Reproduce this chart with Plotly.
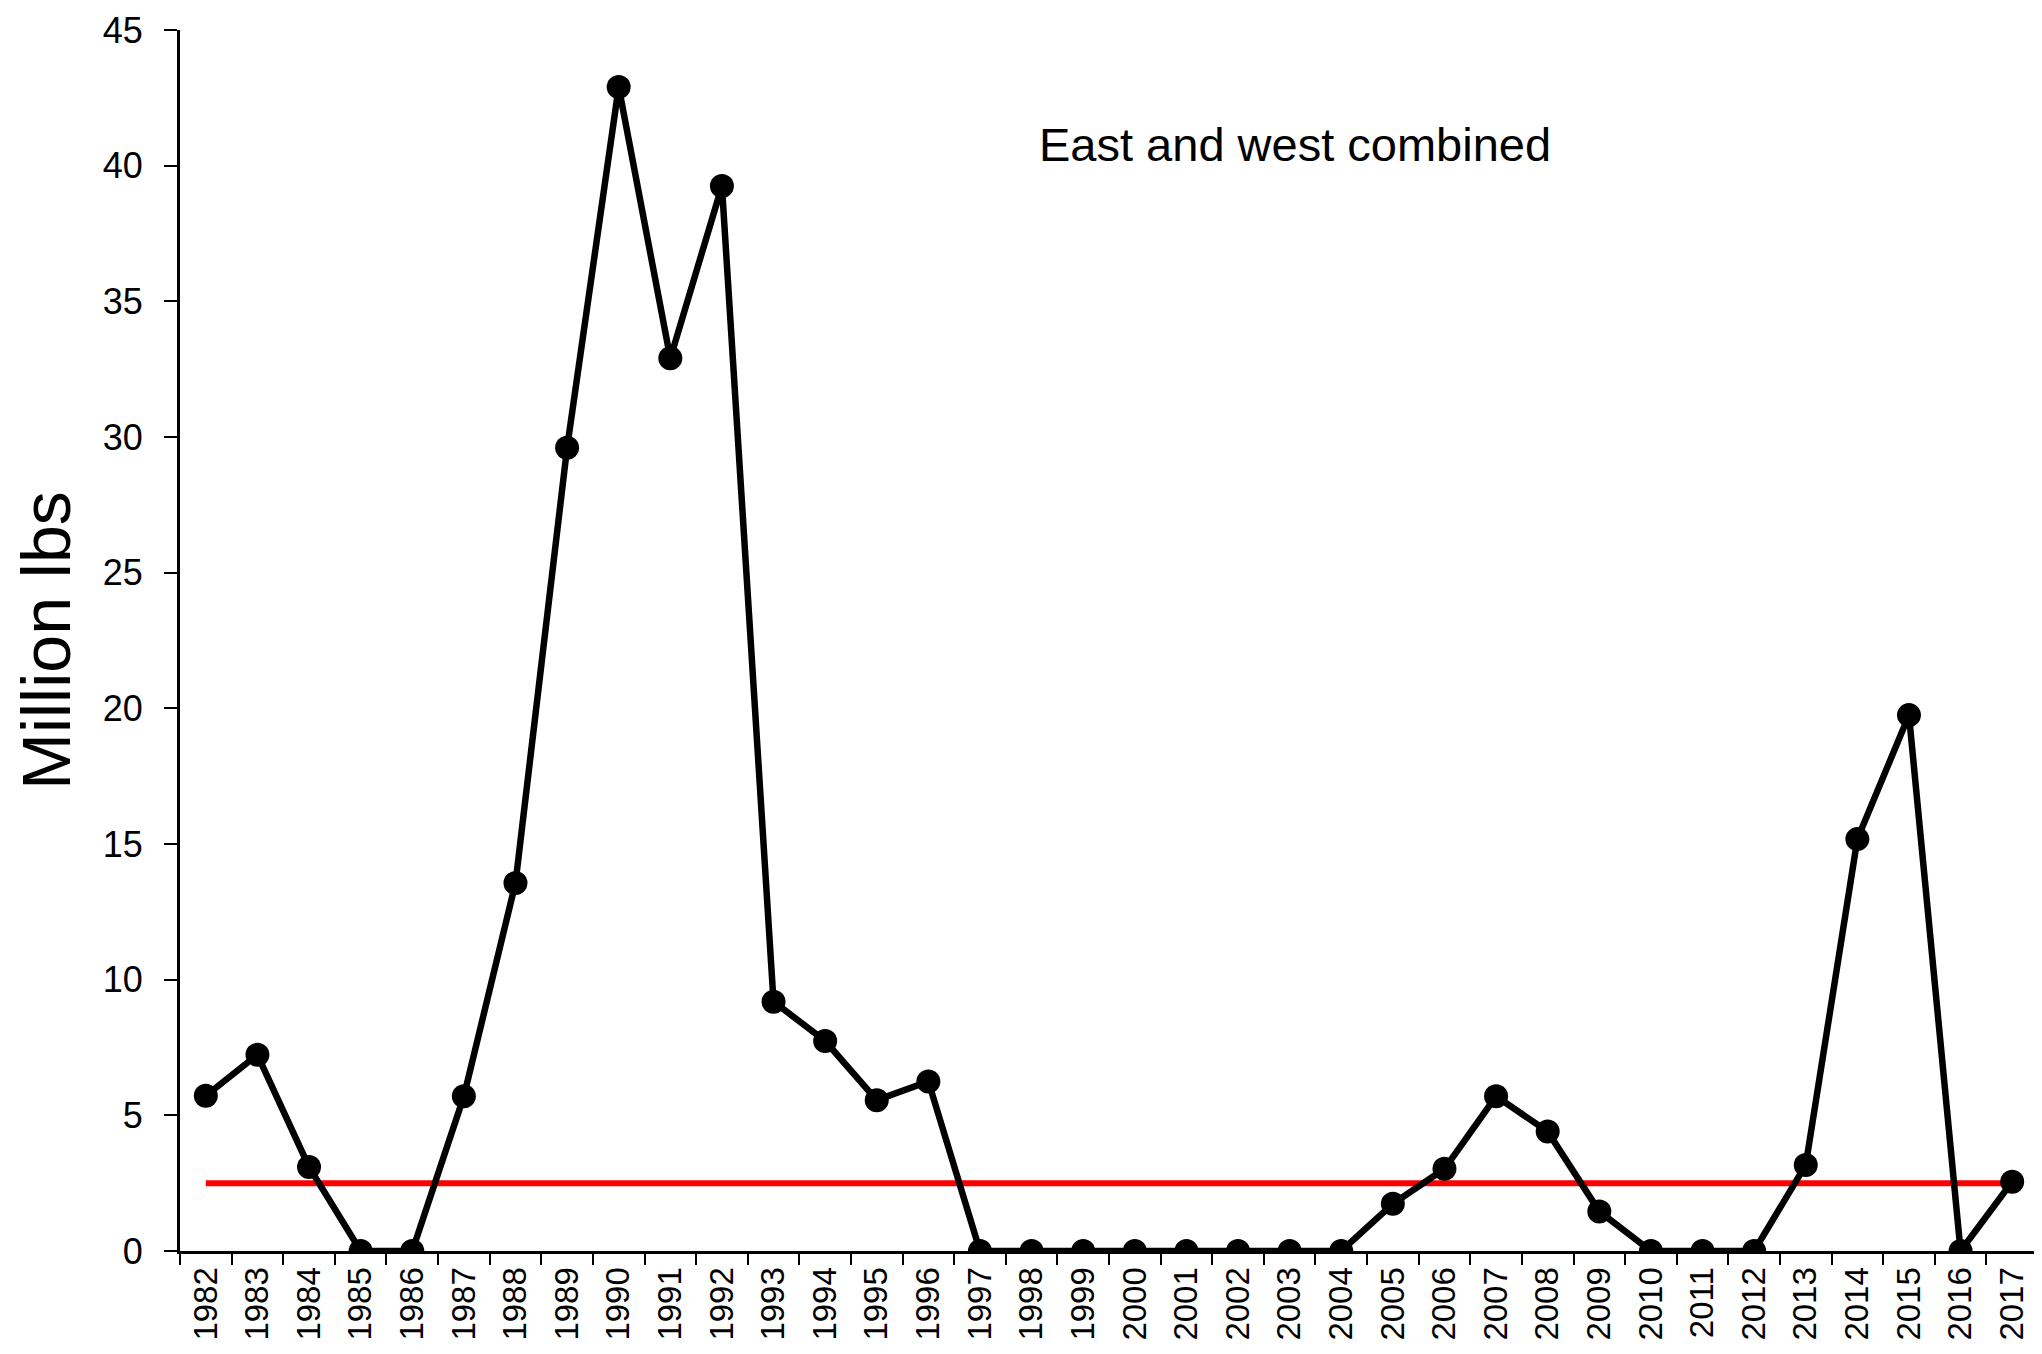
"""
plot.py — annual landings, east and west combined
"""

import plotly.graph_objects as go


# ── Data ──────────────────────────────────────────────────────────────────────

years = [str(y) for y in range(1982, 2018)]

million_lbs = [
    5.72, 7.23, 3.10, 0.0, 0.0, 5.70, 13.56, 29.6, 42.9, 32.9,
    39.25, 9.19, 7.74, 5.56, 6.25, 0.0, 0.0, 0.0, 0.0, 0.0,
    0.0, 0.0, 0.0, 1.74, 3.03, 5.70, 4.40, 1.46, 0.0, 0.0,
    0.0, 3.17, 15.18, 19.75, 0.0, 2.55,
]

reference_level = 2.5

y_ticks = [0, 5, 10, 15, 20, 25, 30, 35, 40, 45]

chart_label = "East and west combined"
y_title = "Million lbs"

FONT = "Liberation Sans Narrow, Arial Narrow, Liberation Sans, Arial, sans-serif"


# ── Figure ────────────────────────────────────────────────────────────────────

fig = go.Figure()

# red reference line spanning the full period
fig.add_trace(go.Scatter(
    x=[years[0], years[-1]],
    y=[reference_level, reference_level],
    mode="lines",
    line=dict(color="#ff0000", width=6),
    hoverinfo="skip",
    showlegend=False,
))

fig.add_trace(go.Scatter(
    x=years,
    y=million_lbs,
    mode="lines+markers",
    line=dict(color="#000000", width=6.5),
    marker=dict(color="#000000", size=24),
    showlegend=False,
))

fig.add_annotation(
    text=chart_label,
    xref="paper", yref="paper",
    x=0.600, y=0.9065,
    xanchor="center", yanchor="middle",
    showarrow=False,
    font=dict(family=FONT, size=47, color="#000000"),
)

# the page body adds an 8px offset, so margins are trimmed to suit
fig.update_layout(
    width=2042,
    height=1354,
    margin=dict(l=172, r=12, t=22, b=111, autoexpand=False),
    paper_bgcolor="#ffffff",
    plot_bgcolor="#ffffff",
    font=dict(family=FONT, color="#000000"),
    xaxis=dict(
        type="category",
        categoryorder="array",
        categoryarray=years,
        tickson="boundaries",
        ticks="outside",
        ticklen=11,
        tickwidth=2,
        tickcolor="#000000",
        tickangle=-90,
        tickfont=dict(size=33),
        showline=True,
        linecolor="#000000",
        linewidth=3,
        showgrid=False,
        zeroline=False,
        range=[-0.5, len(years) - 0.5],
    ),
    yaxis=dict(
        range=[0, 45],
        tickvals=y_ticks,
        ticks="outside",
        ticklen=13,
        tickwidth=2,
        tickcolor="#000000",
        tickfont=dict(size=36),
        ticklabelstandoff=14,
        ticklabeloverflow="allow",
        showline=True,
        linecolor="#000000",
        linewidth=3,
        showgrid=False,
        zeroline=False,
        title=dict(
            text=y_title,
            font=dict(family="Liberation Sans, Arial, sans-serif", size=68),
            standoff=40,
        ),
    ),
)

fig.write_html("out.html")
